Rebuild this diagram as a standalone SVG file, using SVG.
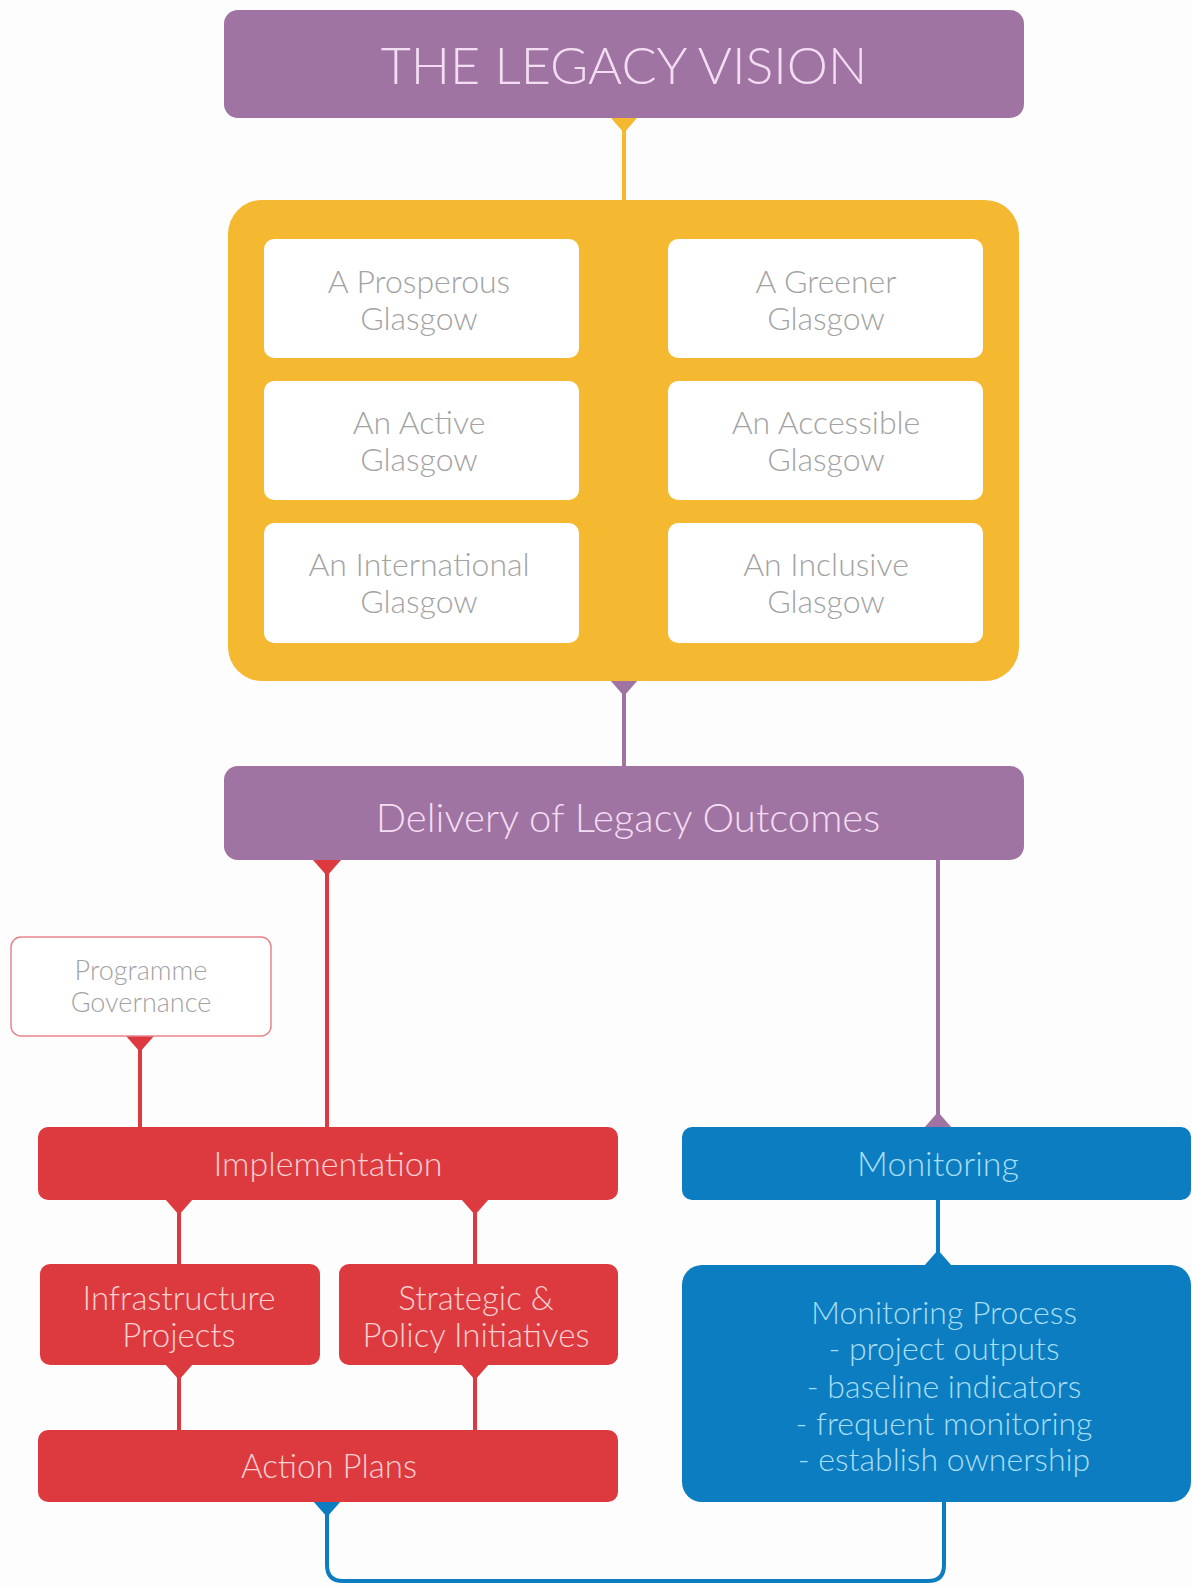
<svg xmlns="http://www.w3.org/2000/svg" width="1192" height="1586" viewBox="0 0 1192 1586">
<style>
text{font-family:"Lato","Open Sans","Liberation Sans",sans-serif;font-weight:300;text-anchor:middle}
.purple{fill:#A074A2}
.yellow{fill:#F4B930}
.red{fill:#DD3A40}
.blue{fill:#0B7DC0}
.card{fill:#FFFFFF}
.tp{fill:#F3DDF3}
.tg{fill:#A3A3A3}
.tr{fill:#FAD0D0}
.tb{fill:#A8DDF6}
.ly{stroke:#F4B930;stroke-width:4;fill:none}
.lp{stroke:#A074A2;stroke-width:4;fill:none}
.lr{stroke:#DD3A40;stroke-width:4;fill:none}
.lb{stroke:#0B7DC0;stroke-width:4;fill:none}
</style>
<rect width="1192" height="1586" fill="#FDFDFD"/>
<g id="connectors">
  <line class="ly" x1="624" y1="118" x2="624" y2="202"/>
  <polygon class="yellow" points="611,118 637,118 624,133"/>
  <line class="lp" x1="624" y1="680" x2="624" y2="768"/>
  <polygon class="purple" points="610,680 638,680 624,696"/>
  <line class="lr" x1="327" y1="860" x2="327" y2="1129"/>
  <polygon class="red" points="313,860 341,860 327,876"/>
  <line class="lp" x1="938" y1="860" x2="938" y2="1129"/>
  <polygon class="purple" points="924,1128 952,1128 938,1112"/>
  <line class="lr" x1="140" y1="1036" x2="140" y2="1129"/>
  <polygon class="red" points="126,1036 154,1036 140,1052"/>
  <line class="lr" x1="179" y1="1200" x2="179" y2="1266"/>
  <polygon class="red" points="165,1199 193,1199 179,1215"/>
  <line class="lr" x1="475" y1="1200" x2="475" y2="1266"/>
  <polygon class="red" points="461,1199 489,1199 475,1215"/>
  <line class="lr" x1="179" y1="1365" x2="179" y2="1432"/>
  <polygon class="red" points="165,1364 193,1364 179,1380"/>
  <line class="lr" x1="475" y1="1365" x2="475" y2="1432"/>
  <polygon class="red" points="461,1364 489,1364 475,1380"/>
  <line class="lb" x1="938" y1="1200" x2="938" y2="1267"/>
  <polygon class="blue" points="924,1266 952,1266 938,1250"/>
  <path class="lb" d="M327 1502 V1565 Q327 1581 343 1581 H928 Q944 1581 944 1565 V1502"/>
  <polygon class="blue" points="313,1501 341,1501 327,1517"/>
</g>
<g id="legacy-vision">
  <rect class="purple" x="224" y="10" width="800" height="108" rx="14"/>
  <text class="tp" x="624" y="84" font-size="52">THE LEGACY VISION</text>
</g>
<g id="vision-themes">
  <rect class="yellow" x="228" y="200" width="791" height="481" rx="34"/>
</g>
<g id="prosperous">
  <rect class="card" x="264" y="239" width="315" height="119" rx="10"/>
  <text class="tg" x="419" y="293" font-size="32">A Prosperous</text>
  <text class="tg" x="419" y="330" font-size="32">Glasgow</text>
</g>
<g id="greener">
  <rect class="card" x="668" y="239" width="315" height="119" rx="10"/>
  <text class="tg" x="826" y="293" font-size="32">A Greener</text>
  <text class="tg" x="826" y="330" font-size="32">Glasgow</text>
</g>
<g id="active">
  <rect class="card" x="264" y="381" width="315" height="119" rx="10"/>
  <text class="tg" x="419" y="434" font-size="32">An Active</text>
  <text class="tg" x="419" y="471" font-size="32">Glasgow</text>
</g>
<g id="accessible">
  <rect class="card" x="668" y="381" width="315" height="119" rx="10"/>
  <text class="tg" x="826" y="434" font-size="32">An Accessible</text>
  <text class="tg" x="826" y="471" font-size="32">Glasgow</text>
</g>
<g id="international">
  <rect class="card" x="264" y="523" width="315" height="120" rx="10"/>
  <text class="tg" x="419" y="576" font-size="32">An International</text>
  <text class="tg" x="419" y="613" font-size="32">Glasgow</text>
</g>
<g id="inclusive">
  <rect class="card" x="668" y="523" width="315" height="120" rx="10"/>
  <text class="tg" x="826" y="576" font-size="32">An Inclusive</text>
  <text class="tg" x="826" y="613" font-size="32">Glasgow</text>
</g>
<g id="delivery">
  <rect class="purple" x="224" y="766" width="800" height="94" rx="14"/>
  <text class="tp" x="628" y="832" font-size="40">Delivery of Legacy Outcomes</text>
</g>
<g id="programme-governance">
  <rect x="11" y="937" width="260" height="99" rx="10" fill="#FFFFFF" stroke="#E8858A" stroke-width="1.5"/>
  <text class="tg" x="141" y="980" font-size="27">Programme</text>
  <text class="tg" x="141" y="1012" font-size="27">Governance</text>
</g>
<g id="implementation">
  <rect class="red" x="38" y="1127" width="580" height="73" rx="10"/>
  <text class="tr" x="328" y="1176" font-size="34">Implementation</text>
</g>
<g id="monitoring">
  <rect class="blue" x="682" y="1127" width="509" height="73" rx="10"/>
  <text class="tb" x="938" y="1176" font-size="34">Monitoring</text>
</g>
<g id="infrastructure">
  <rect class="red" x="40" y="1264" width="280" height="101" rx="10"/>
  <text class="tr" x="179" y="1310" font-size="33">Infrastructure</text>
  <text class="tr" x="179" y="1347" font-size="33">Projects</text>
</g>
<g id="strategic">
  <rect class="red" x="339" y="1264" width="279" height="101" rx="10"/>
  <text class="tr" x="476" y="1310" font-size="33">Strategic &amp;</text>
  <text class="tr" x="476" y="1347" font-size="33">Policy Initiatives</text>
</g>
<g id="action-plans">
  <rect class="red" x="38" y="1430" width="580" height="72" rx="10"/>
  <text class="tr" x="329" y="1478" font-size="33">Action Plans</text>
</g>
<g id="monitoring-process">
  <rect class="blue" x="682" y="1265" width="509" height="237" rx="20"/>
  <text class="tb" x="944" y="1324" font-size="32">Monitoring Process</text>
  <text class="tb" x="944" y="1360" font-size="32">- project outputs</text>
  <text class="tb" x="944" y="1398" font-size="32">- baseline indicators</text>
  <text class="tb" x="944" y="1435" font-size="32">- frequent monitoring</text>
  <text class="tb" x="944" y="1471" font-size="32">- establish ownership</text>
</g>
</svg>
